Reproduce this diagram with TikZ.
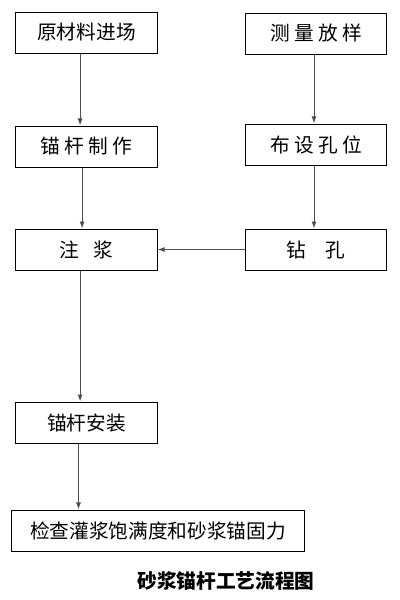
\documentclass[tikz,border=0pt]{standalone}
\usepackage{fontspec}
\newfontfamily\cjk{Noto Sans CJK SC}
\usetikzlibrary{positioning, arrows.meta}

\begin{document}
\begin{tikzpicture}[
    x=0.025cm, y=-0.025cm,
    stepbox/.style={
        draw,
        line width=0.7pt,
        minimum width=3.525cm,
        minimum height=1.025cm,
        inner sep=0pt,
        font=\cjk\fontsize{14}{16}\selectfont
    },
    flow/.style={-{Latex[length=5pt,width=3.5pt]}, line width=0.7pt, gray!60!black},
    titlelbl/.style={font=\cjk\bfseries\fontsize{14}{16}\selectfont}
]
\useasboundingbox (0,0) rectangle (400,600);

% === Left column ===
\node[stepbox] (raw) at (86.5,32.5) {原材料进场};
\node[stepbox, below=1.8cm of raw] (make) {锚 杆 制 作};
\node[stepbox, below=1.525cm of make] (grout) {注\hspace{0.5em} 浆};
\node[stepbox, below=3.275cm of grout] (install) {锚杆安装};
\node[stepbox, minimum width=7.3cm] (check) at (158,530.5) {检查灌浆饱满度和砂浆锚固力};

% === Right column ===
\node[stepbox] (survey) at (316,33.5) {测 量 放 样};
\node[stepbox, below=1.725cm of survey] (layout) {布 设 孔 位};
\node[stepbox, below=1.575cm of layout] (drill) {钻\hspace{0.75em} 孔};

% === Title ===
\node[titlelbl] (title) at (226,581) {砂浆锚杆工艺流程图};

% === Arrows ===
\draw[flow] ([xshift=-0.16cm]raw.south) -- ([xshift=-0.16cm]make.north);
\draw[flow] ([xshift=-0.11cm]make.south) -- ([xshift=-0.11cm]grout.north);
\draw[flow] ([xshift=-0.16cm]grout.south) -- ([xshift=-0.16cm]install.north);
\draw[flow] ([xshift=-0.2cm]install.south) -- ([xshift=-0.2cm]install.south |- check.north);
\draw[flow] ([xshift=-0.05cm]survey.south) -- ([xshift=-0.05cm]layout.north);
\draw[flow] ([xshift=-0.05cm]layout.south) -- ([xshift=-0.05cm]drill.north);
\draw[flow] (drill.west) -- (grout.east);

\end{tikzpicture}
\end{document}
